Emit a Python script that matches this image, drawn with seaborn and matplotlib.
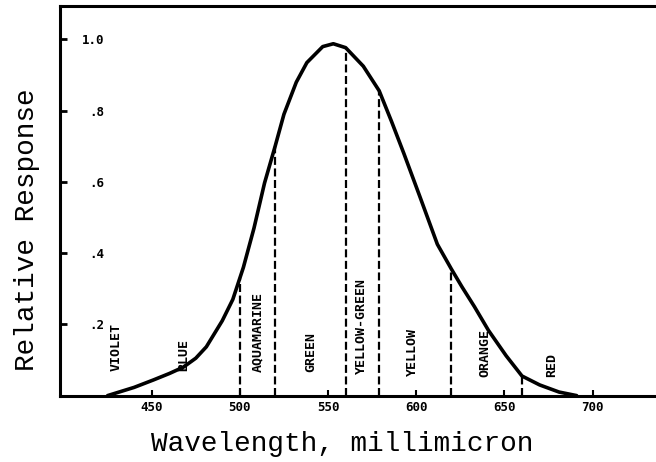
import seaborn as sns
import matplotlib.pyplot as plt
import pandas as pd

# response curve
wavelength = [425, 440, 451, 460, 468, 475, 481, 490, 496, 502, 508, 514, 520, 525,
              532, 538, 547, 553, 560, 570, 579, 586, 593, 602, 612, 620, 626, 633,
              641, 651, 660, 670, 681, 691]
response = [0.0, 0.023, 0.044, 0.062, 0.08, 0.105, 0.137, 0.21, 0.27, 0.36, 0.47, 0.597,
            0.70, 0.79, 0.88, 0.935, 0.98, 0.988, 0.977, 0.925, 0.856, 0.77, 0.68, 0.56,
            0.425, 0.355, 0.305, 0.25, 0.183, 0.112, 0.055, 0.03, 0.01, 0.0]

# dashed band boundaries
band_edges = [500, 520, 560, 579, 620, 660]
band_edge_tops = [0.33, 0.70, 0.977, 0.856, 0.355, 0.055]

band_names = ['VIOLET', 'BLUE', 'AQUAMARINE', 'GREEN', 'YELLOW-GREEN', 'YELLOW', 'ORANGE', 'RED']
band_label_x = [430, 468, 510, 540, 569, 598, 639, 677]
band_label_y = [0.137, 0.114, 0.178, 0.122, 0.196, 0.122, 0.12, 0.086]

x_ticks = [450, 500, 550, 600, 650, 700]
y_ticks = [0.2, 0.4, 0.6, 0.8, 1.0]
y_tick_labels = ['.2', '.4', '.6', '.8', '1.0']

sns.set_style('white')
plt.rcParams['text.color'] = 'black'
plt.rcParams['axes.labelcolor'] = 'black'
plt.rcParams['xtick.color'] = 'black'
plt.rcParams['ytick.color'] = 'black'

fig = plt.figure(figsize=(6.56, 4.62), dpi=100)
ax = fig.add_axes([60 / 656, 1 - 395.6 / 462, 596 / 656, 389.6 / 462])

df = pd.DataFrame({'wl': wavelength, 'resp': response})
sns.lineplot(data=df, x='wl', y='resp', color='black', lw=2.6, ax=ax,
             solid_joinstyle='round', solid_capstyle='round')
ax.vlines(band_edges, 0, band_edge_tops, colors='black', linestyles=(0, (3.6, 1.6)), lw=1.6)

for name, bx, by in zip(band_names, band_label_x, band_label_y):
    ax.text(bx, by, name, rotation=90, ha='center', va='center', color='black',
            family='DejaVu Sans Mono', fontweight='bold', fontsize=9.5)

ax.set_xlim(398, 736)
ax.set_ylim(0, 1.094)
ax.set_xticks(x_ticks)
ax.set_xticklabels([str(t) for t in x_ticks], family='DejaVu Sans Mono', fontweight='bold', fontsize=9)
ax.set_yticks(y_ticks)
ax.set_yticklabels(y_tick_labels, family='DejaVu Sans Mono', fontweight='bold', fontsize=9)
ax.tick_params(axis='x', direction='in', length=4, width=1.5, pad=4, bottom=True)
ax.tick_params(axis='y', direction='in', length=5, width=2, pad=-32, left=True)

for side in ['left', 'bottom', 'top']:
    ax.spines[side].set_linewidth(2.2)
    ax.spines[side].set_color('black')
ax.spines['right'].set_visible(False)

ax.set_xlabel('Wavelength, millimicron', family='Liberation Mono', fontsize=20)
ax.set_ylabel('Relative Response', family='Liberation Mono', fontsize=20)
ax.xaxis.set_label_coords(0.474, -0.09)
ax.yaxis.set_label_coords(-0.033, 0.425)

fig.savefig('out.png', dpi=100)
